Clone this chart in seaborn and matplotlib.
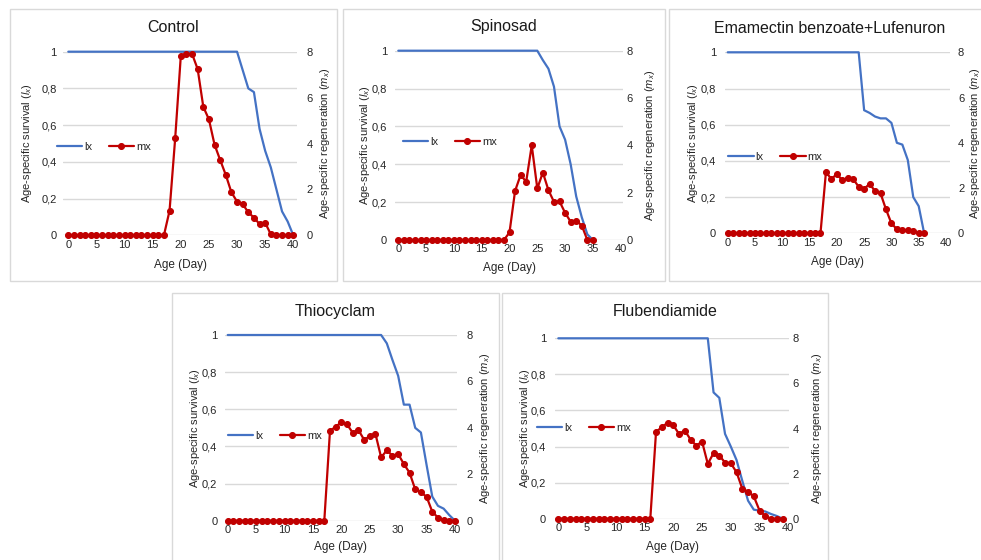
import matplotlib
matplotlib.use("Agg")
import matplotlib.pyplot as plt
import matplotlib.transforms as mtransforms
from matplotlib.patches import Rectangle
import seaborn as sns
import pandas as pd

# ---------------- data ----------------
titles = ["Control", "Spinosad", "Emamectin benzoate+Lufenuron", "Thiocyclam", "Flubendiamide"]

days_control = list(range(0, 41))
lx_control = [1, 1, 1, 1, 1, 1, 1, 1, 1, 1, 1, 1, 1, 1, 1, 1, 1, 1, 1, 1, 1,
              1, 1, 1, 1, 1, 1, 1, 1, 1, 1, 0.9, 0.8, 0.78, 0.58, 0.46, 0.37,
              0.25, 0.13, 0.075, 0]
mx_control = [0, 0, 0, 0, 0, 0, 0, 0, 0, 0, 0, 0, 0, 0, 0, 0, 0, 0, 1.07, 4.22,
              7.81, 7.88, 7.91, 7.24, 5.6, 5.05, 3.95, 3.28, 2.63, 1.87, 1.47,
              1.36, 1.0, 0.77, 0.49, 0.55, 0.04, 0, 0, 0, 0]

days_spinosad = list(range(0, 36))
lx_spinosad = [1, 1, 1, 1, 1, 1, 1, 1, 1, 1, 1, 1, 1, 1, 1, 1, 1, 1, 1, 1, 1,
               1, 1, 1, 1, 1, 0.95, 0.905, 0.81, 0.6, 0.53, 0.4, 0.23, 0.12,
               0.03, 0]
mx_spinosad = [0, 0, 0, 0, 0, 0, 0, 0, 0, 0, 0, 0, 0, 0, 0, 0, 0, 0, 0, 0, 0.32,
               2.07, 2.75, 2.46, 4.0, 2.18, 2.85, 2.11, 1.61, 1.63, 1.15, 0.77,
               0.82, 0.61, 0, 0]

days_emamectin = list(range(0, 37))
lx_emamectin = [1, 1, 1, 1, 1, 1, 1, 1, 1, 1, 1, 1, 1, 1, 1, 1, 1, 1, 1, 1, 1,
                1, 1, 1, 1, 0.68, 0.665, 0.645, 0.635, 0.635, 0.61, 0.5, 0.49,
                0.405, 0.2, 0.15, 0]
mx_emamectin = [0, 0, 0, 0, 0, 0, 0, 0, 0, 0, 0, 0, 0, 0, 0, 0, 0, 0, 2.7, 2.4,
                2.62, 2.34, 2.46, 2.39, 2.06, 1.96, 2.19, 1.86, 1.77, 1.06, 0.44,
                0.18, 0.15, 0.13, 0.12, 0.01, 0]

days_thiocyclam = list(range(0, 41))
lx_thiocyclam = [1, 1, 1, 1, 1, 1, 1, 1, 1, 1, 1, 1, 1, 1, 1, 1, 1, 1, 1, 1, 1,
                 1, 1, 1, 1, 1, 1, 1, 0.955, 0.865, 0.78, 0.625, 0.625, 0.5,
                 0.475, 0.3, 0.13, 0.08, 0.065, 0.03, 0]
mx_thiocyclam = [0, 0, 0, 0, 0, 0, 0, 0, 0, 0, 0, 0, 0, 0, 0, 0, 0, 0, 3.87, 4.05,
                 4.24, 4.15, 3.79, 3.91, 3.49, 3.64, 3.74, 2.73, 3.03, 2.80, 2.87,
                 2.44, 2.07, 1.35, 1.22, 1.03, 0.39, 0.13, 0.03, 0, 0]

days_flubendiamide = list(range(0, 40))
lx_flubendiamide = [1, 1, 1, 1, 1, 1, 1, 1, 1, 1, 1, 1, 1, 1, 1, 1, 1, 1, 1, 1,
                    1, 1, 1, 1, 1, 1, 1, 0.70, 0.67, 0.47, 0.40, 0.325, 0.21,
                    0.10, 0.05, 0.045, 0.04, 0.026, 0.015, 0]
mx_flubendiamide = [0, 0, 0, 0, 0, 0, 0, 0, 0, 0, 0, 0, 0, 0, 0, 0, 0, 3.86, 4.05,
                    4.26, 4.14, 3.76, 3.91, 3.51, 3.24, 3.42, 2.43, 2.91, 2.80,
                    2.49, 2.46, 2.06, 1.33, 1.20, 0.99, 0.36, 0.12, 0, 0, 0]

x_ticks = [0, 5, 10, 15, 20, 25, 30, 35, 40]
left_ticks = [0, 0.2, 0.4, 0.6, 0.8, 1]
left_tick_labels = ["0", "0,2", "0,4", "0,6", "0,8", "1"]
right_ticks = [0, 2, 4, 6, 8]
right_tick_labels = ["0", "2", "4", "6", "8"]

series = [
    (days_control, lx_control, mx_control),
    (days_spinosad, lx_spinosad, mx_spinosad),
    (days_emamectin, lx_emamectin, mx_emamectin),
    (days_thiocyclam, lx_thiocyclam, mx_thiocyclam),
    (days_flubendiamide, lx_flubendiamide, mx_flubendiamide),
]

# ---------------- layout (pixels) ----------------
W, H = 981, 560
boxes = [(10, 9, 337, 281), (343, 9, 665, 281), (669, 9, 992, 281),
         (172, 293, 499, 566), (502, 293, 828, 566)]
areas = [(63.3, 296.7, 68.3, 293.3, 51.7, 235.3),
         (395, 623.3, 398.3, 620.7, 50.7, 240.0),
         (725, 950, 727.7, 946.0, 52.3, 233.3),
         (225, 456.7, 227.7, 455.0, 335.0, 520.7),
         (555, 789.3, 558.3, 788.3, 338.3, 518.7)]
title_x = [173.5, 504, 830, 335.5, 665]
title_y = [27.7, 27.0, 28.3, 311.7, 311.7]
xlabel_y = [265, 267.7, 261.7, 546.7, 546.7]
ylabel_l = [27, 365, 693.3, 195, 525]
ylabel_r = [325, 650, 975, 485, 816.7]
lpad_px = [6.6, 8, 9, 7.7, 9]
rpad_px = [10, 3, 8, 10, 3]
legend_pos = [(56.7, 146.7), (402.7, 141.7), (728, 156.7), (227.7, 435.7), (536.7, 428.3)]

BLUE = "#4472C4"
RED = "#C00000"
GRID = "#D9D9D9"
TXT = "#262626"

sns.set_theme(style="white")
plt.rcParams["font.family"] = ["Liberation Sans", "DejaVu Sans"]
plt.rcParams["mathtext.fontset"] = "custom"
plt.rcParams["mathtext.it"] = "Liberation Sans:italic"
plt.rcParams["mathtext.rm"] = "Liberation Sans"

fig = plt.figure(figsize=(W / 100, H / 100), dpi=100)
fig.patch.set_facecolor("white")

PT = 72 / 100.0

for i in range(5):
    days, lx, mx = series[i]
    l, t, r, b = boxes[i]
    fig.add_artist(Rectangle((l / W, 1 - b / H), (r - l) / W, (b - t) / H,
                             transform=fig.transFigure, fill=False,
                             edgecolor=GRID, linewidth=1.0))
    gl, gr, x0, x40, y1, y0 = areas[i]
    ppd = (x40 - x0) / 40.0
    ax = fig.add_axes([gl / W, 1 - y0 / H, (gr - gl) / W, (y0 - y1) / H])
    ax2 = ax.twinx()

    df = pd.DataFrame({"Age": days, "lx": lx, "mx": mx})
    sns.lineplot(data=df, x="Age", y="lx", ax=ax, color=BLUE, linewidth=1.6,
                 label="lx", legend=False, clip_on=False, zorder=3)
    sns.lineplot(data=df, x="Age", y="mx", ax=ax2, color=RED, linewidth=1.6,
                 marker="o", markersize=4.3, markeredgecolor=RED,
                 markerfacecolor=RED, label="mx", legend=False, clip_on=False,
                 zorder=4)

    ax.set_xlim(-(x0 - gl) / ppd, 40 + (gr - x40) / ppd)
    ax.set_ylim(0, 1)
    ax2.set_ylim(0, 8)
    ax.set_xticks(x_ticks)
    ax.set_xticklabels([str(v) for v in x_ticks])
    ax.set_yticks(left_ticks)
    ax.set_yticklabels(left_tick_labels)
    ax2.set_yticks(right_ticks)
    ax2.set_yticklabels(right_tick_labels)
    ax.grid(axis="y", color=GRID, linewidth=1.0)
    ax.grid(axis="x", visible=False)
    ax2.grid(False)
    for a in (ax, ax2):
        for s in a.spines.values():
            s.set_visible(False)
    ax.tick_params(axis="x", length=0, pad=3.2, labelsize=8, labelcolor=TXT)
    ax.tick_params(axis="y", length=0, pad=lpad_px[i] * PT, labelsize=8, labelcolor=TXT)
    ax2.tick_params(axis="y", length=0, pad=rpad_px[i] * PT, labelsize=8, labelcolor=TXT)

    ax.set_xlabel("Age (Day)", fontsize=8.5, color=TXT, va="center")
    ax.xaxis.set_label_coords(0.5, 1 - xlabel_y[i] / H,
                              transform=mtransforms.blended_transform_factory(ax.transAxes, fig.transFigure))
    ax.set_ylabel("Age-specific survival ($l_x$)", fontsize=8, color=TXT, va="center", rotation=90)
    ax.yaxis.set_label_coords(ylabel_l[i] / W, 0.5,
                              transform=mtransforms.blended_transform_factory(fig.transFigure, ax.transAxes))
    ax2.set_ylabel("Age-specific regeneration ($m_x$)", fontsize=8, color=TXT, va="center", rotation=90)
    ax2.yaxis.set_label_coords(ylabel_r[i] / W, 0.5,
                               transform=mtransforms.blended_transform_factory(fig.transFigure, ax.transAxes))

    fig.text(title_x[i] / W, 1 - title_y[i] / H, titles[i],
             ha="center", va="center", fontsize=11.5, color="#1a1a1a")

    handles = [ax.lines[0], ax2.lines[0]]
    lgx, lgy = legend_pos[i]
    ax2.legend(handles, ["lx", "mx"], loc="center left",
               bbox_to_anchor=(lgx / W, 1 - lgy / H), bbox_transform=fig.transFigure,
               ncol=2, frameon=False, fontsize=8, handlelength=2.3,
               handletextpad=0.15, columnspacing=1.5, borderpad=0, borderaxespad=0,
               labelcolor=TXT)

fig.savefig("out.png", dpi=100, facecolor="white")
